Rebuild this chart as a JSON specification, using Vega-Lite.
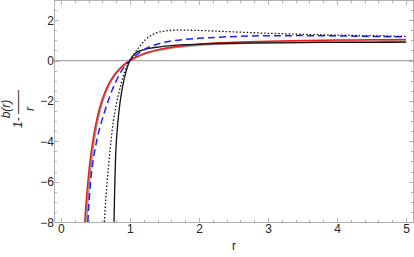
{
  "$schema": "https://vega.github.io/schema/vega-lite/v6.json",
  "width": 359,
  "height": 222,
  "autosize": {"type": "none"},
  "padding": {"left": 54, "top": 0, "right": 1, "bottom": 35},
  "background": "white",
  "config": {
    "view": {"stroke": "#b3b3b3", "strokeWidth": 1},
    "axis": {
      "domain": false, "grid": false,
      "tickColor": "#a0a0a0", "tickWidth": 0.8,
      "labelFont": "Liberation Sans", "labelFontSize": 12, "labelColor": "#222",
      "titleFont": "Liberation Sans", "titleFontSize": 12, "titleFontWeight": "normal", "titleColor": "#222",
      "labelOverlap": false, "labelFlush": false, "labelBound": false
    }
  },
  "datasets": {
    "c": [
      {"k":"G","r":0.36,"y":-8.3},{"k":"G","r":0.38,"y":-7.256},{"k":"G","r":0.40,"y":-6.377},{"k":"G","r":0.43,"y":-5.295},{"k":"G","r":0.46,"y":-4.43},{"k":"G","r":0.50,"y":-3.523},{"k":"G","r":0.55,"y":-2.671},{"k":"G","r":0.60,"y":-2.035},{"k":"G","r":0.65,"y":-1.548},{"k":"G","r":0.70,"y":-1.168},{"k":"G","r":0.75,"y":-0.865},{"k":"G","r":0.80,"y":-0.621},{"k":"G","r":0.85,"y":-0.421},{"k":"G","r":0.90,"y":-0.256},{"k":"G","r":0.95,"y":-0.117},{"k":"G","r":1.0,"y":0},{"k":"G","r":1.1,"y":0.185},{"k":"G","r":1.2,"y":0.324},{"k":"G","r":1.3,"y":0.43},{"k":"G","r":1.4,"y":0.513},{"k":"G","r":1.6,"y":0.632},{"k":"G","r":1.8,"y":0.711},{"k":"G","r":2.0,"y":0.767},{"k":"G","r":2.3,"y":0.823},{"k":"G","r":2.6,"y":0.86},{"k":"G","r":3.0,"y":0.893},{"k":"G","r":3.5,"y":0.918},{"k":"G","r":4.0,"y":0.934},{"k":"G","r":4.5,"y":0.944},{"k":"G","r":5.0,"y":0.952},
      {"k":"R","r":0.34,"y":-8.26},{"k":"R","r":0.36,"y":-7.253},{"k":"R","r":0.38,"y":-6.399},{"k":"R","r":0.40,"y":-5.67},{"k":"R","r":0.43,"y":-4.761},{"k":"R","r":0.46,"y":-4.024},{"k":"R","r":0.50,"y":-3.24},{"k":"R","r":0.55,"y":-2.49},{"k":"R","r":0.60,"y":-1.92},{"k":"R","r":0.65,"y":-1.476},{"k":"R","r":0.70,"y":-1.124},{"k":"R","r":0.75,"y":-0.84},{"k":"R","r":0.80,"y":-0.608},{"k":"R","r":0.85,"y":-0.415},{"k":"R","r":0.90,"y":-0.253},{"k":"R","r":0.95,"y":-0.117},{"k":"R","r":1.0,"y":0},{"k":"R","r":1.1,"y":0.187},{"k":"R","r":1.2,"y":0.33},{"k":"R","r":1.3,"y":0.441},{"k":"R","r":1.4,"y":0.529},{"k":"R","r":1.6,"y":0.658},{"k":"R","r":1.8,"y":0.747},{"k":"R","r":2.0,"y":0.81},{"k":"R","r":2.3,"y":0.876},{"k":"R","r":2.6,"y":0.92},{"k":"R","r":3.0,"y":0.96},{"k":"R","r":3.5,"y":0.992},{"k":"R","r":4.0,"y":1.013},{"k":"R","r":4.5,"y":1.027},{"k":"R","r":5.0,"y":1.037},
      {"k":"A","r":0.77,"y":-8},{"k":"A","r":0.775,"y":-7},{"k":"A","r":0.78,"y":-6.2},{"k":"A","r":0.79,"y":-5.0},{"k":"A","r":0.80,"y":-4.2},{"k":"A","r":0.82,"y":-3.25},{"k":"A","r":0.84,"y":-2.55},{"k":"A","r":0.86,"y":-2.0},{"k":"A","r":0.88,"y":-1.55},{"k":"A","r":0.90,"y":-1.18},{"k":"A","r":0.93,"y":-0.72},{"k":"A","r":0.96,"y":-0.36},{"k":"A","r":1.0,"y":0},{"k":"A","r":1.04,"y":0.22},{"k":"A","r":1.08,"y":0.36},{"k":"A","r":1.14,"y":0.48},{"k":"A","r":1.22,"y":0.56},{"k":"A","r":1.3,"y":0.62},{"k":"A","r":1.41,"y":0.67},{"k":"A","r":1.6,"y":0.74},{"k":"A","r":1.8,"y":0.785},{"k":"A","r":2.0,"y":0.815},{"k":"A","r":2.3,"y":0.845},{"k":"A","r":2.6,"y":0.865},{"k":"A","r":3.0,"y":0.88},{"k":"A","r":3.5,"y":0.892},{"k":"A","r":4.0,"y":0.9},{"k":"A","r":4.5,"y":0.905},{"k":"A","r":5.0,"y":0.91},
      {"k":"B","r":0.39,"y":-8},{"k":"B","r":0.41,"y":-6.9},{"k":"B","r":0.43,"y":-6.0},{"k":"B","r":0.46,"y":-5.1},{"k":"B","r":0.50,"y":-4.3},{"k":"B","r":0.55,"y":-3.5},{"k":"B","r":0.60,"y":-2.9},{"k":"B","r":0.65,"y":-2.35},{"k":"B","r":0.70,"y":-1.85},{"k":"B","r":0.75,"y":-1.4},{"k":"B","r":0.80,"y":-1.02},{"k":"B","r":0.85,"y":-0.68},{"k":"B","r":0.90,"y":-0.4},{"k":"B","r":0.95,"y":-0.18},{"k":"B","r":1.0,"y":0},{"k":"B","r":1.1,"y":0.3},{"k":"B","r":1.2,"y":0.53},{"k":"B","r":1.3,"y":0.7},{"k":"B","r":1.4,"y":0.82},{"k":"B","r":1.6,"y":0.97},{"k":"B","r":1.8,"y":1.05},{"k":"B","r":2.0,"y":1.1},{"k":"B","r":2.3,"y":1.16},{"k":"B","r":2.6,"y":1.2},{"k":"B","r":3.0,"y":1.23},{"k":"B","r":3.5,"y":1.235},{"k":"B","r":4.0,"y":1.22},{"k":"B","r":4.5,"y":1.195},{"k":"B","r":5.0,"y":1.17},
      {"k":"D","r":0.63,"y":-8},{"k":"D","r":0.65,"y":-6.9},{"k":"D","r":0.67,"y":-6.0},{"k":"D","r":0.70,"y":-4.85},{"k":"D","r":0.73,"y":-3.85},{"k":"D","r":0.76,"y":-3.0},{"k":"D","r":0.80,"y":-2.2},{"k":"D","r":0.85,"y":-1.45},{"k":"D","r":0.90,"y":-0.8},{"k":"D","r":0.95,"y":-0.32},{"k":"D","r":1.0,"y":0},{"k":"D","r":1.07,"y":0.38},{"k":"D","r":1.14,"y":0.7},{"k":"D","r":1.22,"y":1.02},{"k":"D","r":1.32,"y":1.27},{"k":"D","r":1.41,"y":1.4},{"k":"D","r":1.55,"y":1.48},{"k":"D","r":1.7,"y":1.51},{"k":"D","r":2.0,"y":1.49},{"k":"D","r":2.5,"y":1.42},{"k":"D","r":3.0,"y":1.35},{"k":"D","r":3.5,"y":1.3},{"k":"D","r":4.0,"y":1.26},{"k":"D","r":4.5,"y":1.23},{"k":"D","r":5.0,"y":1.2}
    ]
  },
  "layer": [
    {
      "data": {"values": [{"y": 0}]},
      "mark": {"type": "rule", "color": "#a8a8a8", "strokeWidth": 1.3},
      "encoding": {
        "y": {"field": "y", "type": "quantitative",
          "scale": {"domain": [-8, 3], "nice": false, "zero": false},
          "axis": {"orient": "right", "title": null, "labels": false,
            "values": [-8,-7.5,-7,-6.5,-6,-5.5,-5,-4.5,-4,-3.5,-3,-2.5,-2,-1.5,-1,-0.5,0,0.5,1,1.5,2,2.5,3],
            "tickSize": {"condition": {"test": "abs(datum.value/2-round(datum.value/2))<0.001", "value": -4.5}, "value": -2.5}}
        }
      }
    },
    {
      "data": {"name": "c"},
      "transform": [{"filter": "datum.k==='G'"}],
      "mark": {"type": "line", "color": "#9a9a9a", "strokeWidth": 2.2, "interpolate": "monotone", "clip": true},
      "encoding": {
        "x": {"field": "r", "type": "quantitative",
          "scale": {"domain": [-0.1, 5.1], "nice": false, "zero": false},
          "axis": {"orient": "bottom", "title": "r", "titlePadding": 4, "labelPadding": 6,
            "values": [0,0.2,0.4,0.6,0.8,1,1.2,1.4,1.6,1.8,2,2.2,2.4,2.6,2.8,3,3.2,3.4,3.6,3.8,4,4.2,4.4,4.6,4.8,5],
            "labelExpr": "abs(datum.value-round(datum.value))<0.001 ? format(datum.value,'d') : ''",
            "tickSize": {"condition": {"test": "abs(datum.value-round(datum.value))<0.001", "value": -4.5}, "value": -2.5}}
        },
        "y": {"field": "y", "type": "quantitative",
          "scale": {"domain": [-8, 3], "nice": false, "zero": false},
          "axis": {"orient": "left", "labelPadding": 5,
            "title": ["\u00a0\u00a0\u00a0\u00a0b(r)", "1-\u00a0\u2014\u2014", "\u00a0\u00a0\u00a0\u00a0r"],
            "titleFontStyle": "italic", "titleLineHeight": 12, "titleAngle": -90,
            "titleAlign": "center", "titleBaseline": "bottom", "titleX": -42, "titleY": 108.5,
            "values": [-8,-7.5,-7,-6.5,-6,-5.5,-5,-4.5,-4,-3.5,-3,-2.5,-2,-1.5,-1,-0.5,0,0.5,1,1.5,2,2.5,3],
            "labelExpr": "abs(datum.value/2-round(datum.value/2))<0.001 ? format(datum.value,'d') : ''",
            "tickSize": {"condition": {"test": "abs(datum.value/2-round(datum.value/2))<0.001", "value": -4.5}, "value": -2.5}}
        }
      }
    },
    {
      "data": {"name": "c"},
      "transform": [{"filter": "datum.k==='R'"}],
      "mark": {"type": "line", "color": "#ee1c1c", "strokeWidth": 1.5, "interpolate": "monotone", "clip": true},
      "encoding": {
        "x": {"field": "r", "type": "quantitative",
          "scale": {"domain": [-0.1, 5.1], "nice": false, "zero": false},
          "axis": {"orient": "top", "title": null, "labels": false,
            "values": [0,0.2,0.4,0.6,0.8,1,1.2,1.4,1.6,1.8,2,2.2,2.4,2.6,2.8,3,3.2,3.4,3.6,3.8,4,4.2,4.4,4.6,4.8,5],
            "tickSize": {"condition": {"test": "abs(datum.value-round(datum.value))<0.001", "value": -4.5}, "value": -2.5}}
        },
        "y": {"field": "y", "type": "quantitative", "scale": {"domain": [-8, 3], "nice": false, "zero": false}, "axis": null}
      }
    },
    {
      "data": {"name": "c"},
      "transform": [{"filter": "datum.k==='A'"}],
      "mark": {"type": "line", "color": "#111111", "strokeWidth": 1.3, "interpolate": "monotone", "clip": true},
      "encoding": {
        "x": {"field": "r", "type": "quantitative", "scale": {"domain": [-0.1, 5.1], "nice": false, "zero": false}, "axis": null},
        "y": {"field": "y", "type": "quantitative", "scale": {"domain": [-8, 3], "nice": false, "zero": false}, "axis": null}
      }
    },
    {
      "data": {"name": "c"},
      "transform": [{"filter": "datum.k==='B'"}],
      "mark": {"type": "line", "color": "#1f1fff", "strokeWidth": 1.5, "strokeDash": [7, 4], "interpolate": "monotone", "clip": true},
      "encoding": {
        "x": {"field": "r", "type": "quantitative", "scale": {"domain": [-0.1, 5.1], "nice": false, "zero": false}, "axis": null},
        "y": {"field": "y", "type": "quantitative", "scale": {"domain": [-8, 3], "nice": false, "zero": false}, "axis": null}
      }
    },
    {
      "data": {"name": "c"},
      "transform": [{"filter": "datum.k==='D'"}],
      "mark": {"type": "line", "color": "#111111", "strokeWidth": 1.3, "strokeDash": [1.5, 2], "interpolate": "monotone", "clip": true},
      "encoding": {
        "x": {"field": "r", "type": "quantitative", "scale": {"domain": [-0.1, 5.1], "nice": false, "zero": false}, "axis": null},
        "y": {"field": "y", "type": "quantitative", "scale": {"domain": [-8, 3], "nice": false, "zero": false}, "axis": null}
      }
    }
  ],
  "resolve": {"axis": {"x": "independent", "y": "independent"}}
}
